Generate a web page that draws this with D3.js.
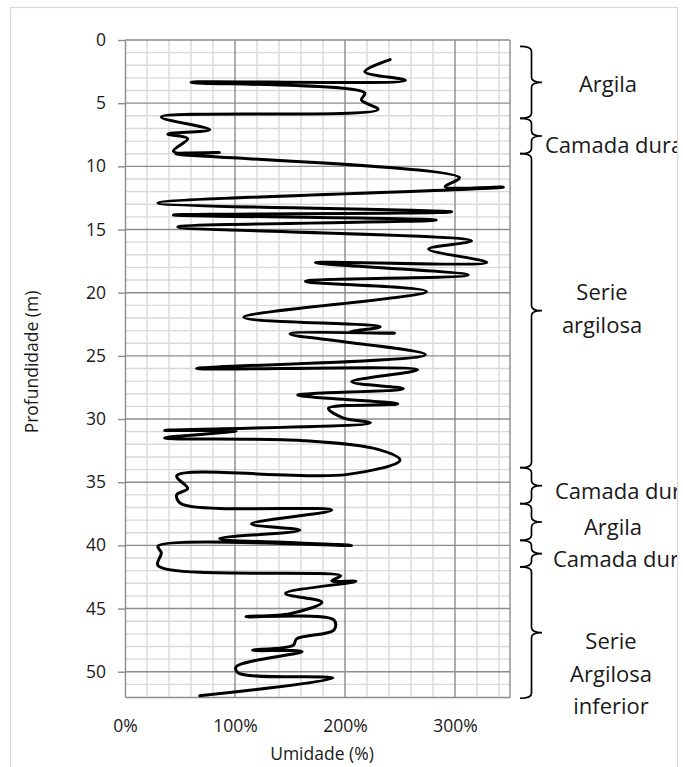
<!DOCTYPE html>
<html><head><meta charset="utf-8">
<script src="https://cdn.jsdelivr.net/npm/d3@7/dist/d3.min.js"></script>
<style>
body{margin:0;background:#fff}
svg{display:block}
text{font-family:"Open Sans",sans-serif;fill:#1a1a1a}
</style>
</head><body>
<svg id="c" width="683" height="767"></svg>
<script>
// ---- data ----
const depth = [1.55,2.5,3.2,3.35,4.2,4.75,5.5,6.1,7.1,7.45,7.8,8.8,8.9,9.0,
  10.9,11.6,11.65,12.9,13.6,13.85,14.25,14.8,15.9,16.55,17.6,17.62,18.6,19.1,19.9,
  21.95,22.7,23.1,23.2,23.25,24.9,26.0,26.1,27.05,27.6,28.1,28.8,29.15,29.9,30.3,
  30.9,30.95,31.5,31.7,32.4,33.25,34.4,34.5,35.5,36.0,36.7,37.2,38.3,38.8,39.45,
  40.0,40.05,40.6,41.6,42.4,42.8,42.85,43.8,44.5,45.4,45.65,45.9,46.7,47.4,47.9,
  48.3,48.4,49.6,50.1,50.5,51.9];
const umidade = [241,218,255,60,218,215,230,33,77,39,57,44,86,46,
  304,291,344,30,297,44,283,48,315,276,329,173,312,164,274,
  108,232,205,245,150,273,65,266,206,253,157,248,185,198,223,
  36,101,36,160,230,250,201,47,57,47,51,188,115,159,86,
  206,30,33,30,196,188,210,146,179,150,110,190,190,156,153,
  116,161,101,103,189,68];
const xTicks = [0,100,200,300];
const yTicks = [0,5,10,15,20,25,30,35,40,45,50];
const layerNames = ["Argila","Camada dura","Serie\nargilosa","Camada dura","Argila","Camada dura","Serie\nArgilosa\ninferior"];
const layerTop    = [0.5,6.2,9.0,33.85,36.7,39.6,41.7];
const layerBottom = [6.2,9.0,33.85,36.7,39.6,41.7,52.1];
const labelDepth  = [4.09,8.92,20.58,36.35,39.18,41.74,48.22];

// ---- layout ----
const svg = d3.select("#c");
const x = d3.scaleLinear().domain([0,350]).range([125,510]);
const y = d3.scaleLinear().domain([0,52]).range([40,697]);
const minorC = "#d9d9d9", majorC = "#8c8c8c";

svg.append("defs").append("clipPath").attr("id","clip")
  .append("rect").attr("x",0).attr("y",0).attr("width",677).attr("height",767);

svg.append("rect").attr("x",10.5).attr("y",7.5).attr("width",667).attr("height",800)
  .attr("fill","none").attr("stroke","#d9d9d9").attr("stroke-width",1.3);

const grid = svg.append("g");
const xMinor = d3.range(20,350,20).filter(v=>v%100!==0);
const yMinor = d3.range(1,52,1).filter(v=>v%5!==0);
grid.selectAll(".vm").data(xMinor).join("line")
  .attr("x1",d=>x(d)).attr("x2",d=>x(d)).attr("y1",y(0)).attr("y2",y(52))
  .attr("stroke",minorC).attr("stroke-width",1.4);
grid.selectAll(".hm").data(yMinor).join("line")
  .attr("y1",d=>y(d)).attr("y2",d=>y(d)).attr("x1",x(0)).attr("x2",x(350))
  .attr("stroke",minorC).attr("stroke-width",1.4);
grid.selectAll(".vM").data(xTicks.filter(v=>v>0)).join("line")
  .attr("x1",d=>x(d)).attr("x2",d=>x(d)).attr("y1",y(0)).attr("y2",y(52))
  .attr("stroke",majorC).attr("stroke-width",1.4);
grid.selectAll(".hM").data(yTicks).join("line")
  .attr("y1",d=>y(d)).attr("y2",d=>y(d)).attr("x1",x(0)).attr("x2",x(350))
  .attr("stroke",majorC).attr("stroke-width",1.4);
// right border
grid.append("line").attr("x1",x(350)).attr("x2",x(350)).attr("y1",y(0)).attr("y2",y(52))
  .attr("stroke",majorC).attr("stroke-width",1.4);

// axes
const yAxis = svg.append("g").attr("transform",`translate(${x(0)},0)`)
  .call(d3.axisLeft(y).tickValues(yTicks).tickSize(7).tickSizeOuter(0).tickPadding(12));
const xAxis = svg.append("g").attr("transform",`translate(0,${y(52)})`)
  .call(d3.axisBottom(x).tickValues(xTicks).tickSize(0).tickSizeOuter(0).tickPadding(23).tickFormat(d=>d+"%"));
[yAxis,xAxis].forEach(a=>{
  a.selectAll("path,line").attr("stroke",majorC).attr("stroke-width",1.4);
  a.selectAll("text").style("font-family","Open Sans").style("font-size","17.5px").attr("fill","#1a1a1a");
});

// curve
const pts = depth.map((d,i)=>({d, u:umidade[i]}));
svg.append("path").datum(pts)
  .attr("d", d3.line().x(p=>x(p.u)).y(p=>y(p.d)).curve(d3.curveCatmullRom.alpha(0.5)))
  .attr("fill","none").attr("stroke","#000").attr("stroke-width",3)
  .attr("stroke-linejoin","round").attr("stroke-linecap","round");

// titles
svg.append("text").attr("x",322).attr("y",760).attr("text-anchor","middle")
  .style("font-size","17.5px").text("Umidade (%)");
svg.append("text").attr("transform","translate(38,362) rotate(-90)").attr("text-anchor","middle")
  .style("font-size","17.5px").text("Profundidade (m)");

// braces + labels
const bx0=520, bx1=531.5, bx2=542;
function brace(ya,yb){
  const ym=(ya+yb)/2, r=Math.min(5,(yb-ya)/4);
  return `M${bx0},${ya} Q${bx1},${ya} ${bx1},${ya+r} L${bx1},${ym-r} Q${bx1},${ym} ${bx2},${ym} Q${bx1},${ym} ${bx1},${ym+r} L${bx1},${yb-r} Q${bx1},${yb} ${bx0},${yb}`;
}
const ann = svg.append("g").attr("clip-path","url(#clip)");
const labelX = [608,545,602,555,613,553,611];
const labelAnchor = ["middle","start","middle","start","middle","start","middle"];
layerNames.forEach((name,i)=>{
  ann.append("path").attr("d",brace(y(layerTop[i]),y(layerBottom[i])))
    .attr("fill","none").attr("stroke","#000").attr("stroke-width",1.7);
  const t = ann.append("text").attr("text-anchor",labelAnchor[i])
    .attr("y",y(labelDepth[i])).style("font-size","22px");
  name.split("\n").forEach((ln,j)=>{
    t.append("tspan").attr("x",labelX[i]).attr("dy",j===0?0:32.5).text(ln);
  });
});
</script>
</body></html>
